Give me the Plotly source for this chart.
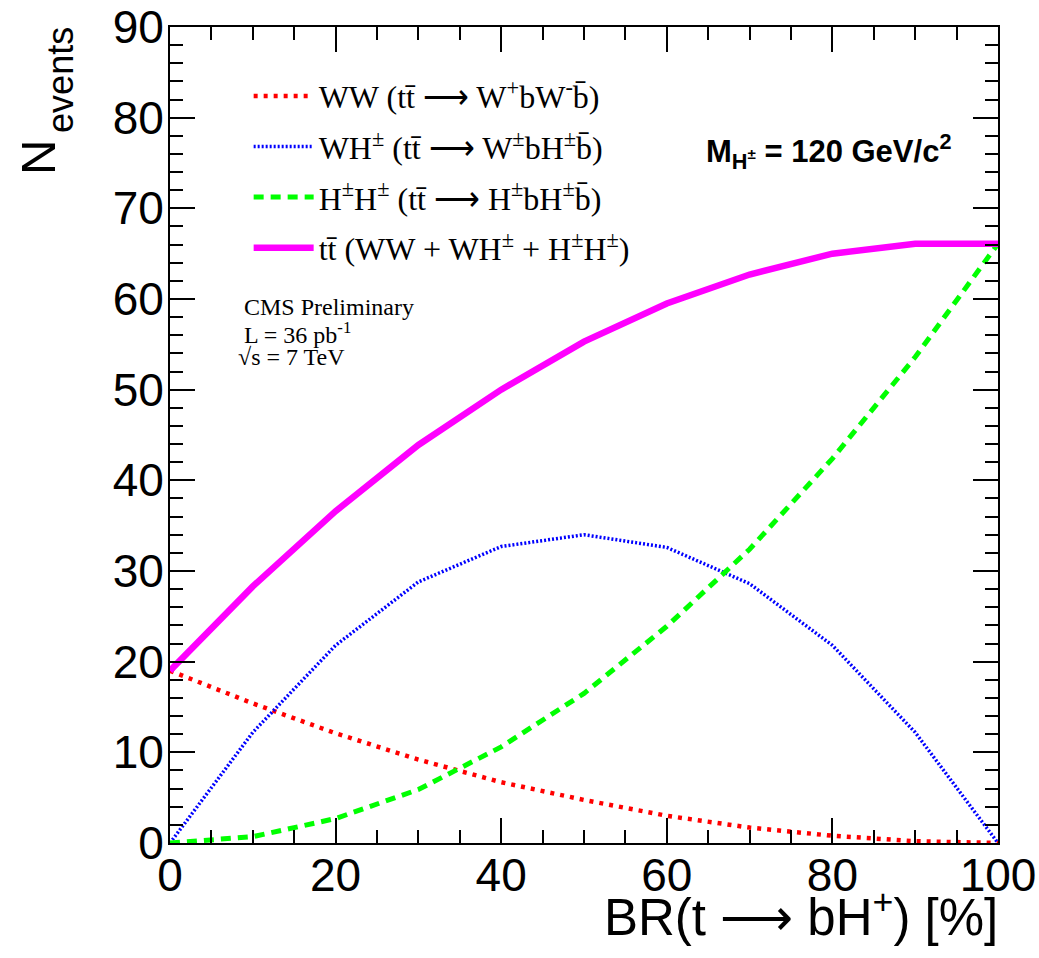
import plotly.graph_objects as go

# Branching ratio BR(t -> bH+) in %
br = [0, 10, 20, 30, 40, 50, 60, 70, 80, 90, 100]

# Expected number of events per component
ww = [19.0, 15.4, 12.1, 9.2, 6.7, 4.75, 3.0, 1.7, 0.8, 0.2, 0.0]
wh = [0.0, 12.2, 21.8, 28.8, 32.7, 34.0, 32.6, 28.6, 21.8, 12.2, 0.0]
hh = [0.0, 0.7, 2.7, 5.9, 10.6, 16.5, 23.9, 32.4, 42.4, 53.6, 66.1]
tt = [19.0, 28.3, 36.6, 43.9, 50.0, 55.3, 59.5, 62.7, 65.0, 66.1, 66.1]

names = [
    "WW (tt̄ ⟶ W<sup>+</sup>bW<sup>-</sup>b̄)",
    "WH<sup>±</sup> (tt̄ ⟶ W<sup>±</sup>bH<sup>±</sup>b̄)",
    "H<sup>±</sup>H<sup>±</sup> (tt̄ ⟶ H<sup>±</sup>bH<sup>±</sup>b̄)",
    "tt̄ (WW + WH<sup>±</sup> + H<sup>±</sup>H<sup>±</sup>)",
]

x_ticks = [0, 20, 40, 60, 80, 100]
y_ticks = [0, 10, 20, 30, 40, 50, 60, 70, 80, 90]

fig = go.Figure()
series = [
    (ww, "#ff0000", 4.5, "4px,6px"),
    (wh, "#0000ff", 3.5, "2px,2px"),
    (hh, "#00ff00", 5, "10px,7px"),
    (tt, "#ff00ff", 6.5, "solid"),
]
for i, (vals, col, w, dash) in enumerate(series):
    fig.add_trace(go.Scatter(
        x=br, y=vals, mode="lines", name=names[i], legendgroup=f"g{i}",
        line=dict(color=col, width=w, dash=dash),
    ))

axis_common = dict(
    showline=True, linecolor="black", linewidth=2, mirror="ticks",
    ticks="inside", tickcolor="black", tickwidth=2, ticklen=25,
    showgrid=False, zeroline=False, automargin=False,
    tickfont=dict(family="Liberation Sans, Arial", size=46, color="black"),
)
fig.update_xaxes(range=[0, 100], tickvals=x_ticks, ticktext=[str(v) for v in x_ticks],
                 ticklabelstandoff=-9,
                 minor=dict(ticks="inside", dtick=5, ticklen=13, tickcolor="black", tickwidth=2),
                 **axis_common)
fig.update_yaxes(range=[0, 90], tickvals=y_ticks, ticktext=[str(v) for v in y_ticks],
                 ticklabelstandoff=-5,
                 minor=dict(ticks="inside", dtick=2, ticklen=13, tickcolor="black", tickwidth=2),
                 **axis_common)

serif = "Liberation Serif, Times New Roman"
sans = "Liberation Sans, Arial"

annotations = [
    dict(text="N", x=-0.16, y=0.84, xref="paper", yref="paper",
         xanchor="center", yanchor="middle", textangle=-90, showarrow=False,
         font=dict(family=sans, size=49, color="black")),
    dict(text="events", x=-0.133, y=0.935, xref="paper", yref="paper",
         xanchor="center", yanchor="middle", textangle=-90, showarrow=False,
         font=dict(family=sans, size=36, color="black")),
    dict(text="BR(t ⟶ bH<sup>+</sup>) [%]", x=1.003, y=-0.087, xref="paper", yref="paper",
         xanchor="right", yanchor="middle", showarrow=False,
         font=dict(family=sans, size=51, color="black")),
    dict(text="<b>M<sub>H<sup>±</sup></sub> = 120 GeV/c<sup>2</sup></b>", x=0.645, y=0.847,
         xref="paper", yref="paper", xanchor="left", yanchor="middle", showarrow=False,
         font=dict(family=sans, size=31, color="black")),
    dict(text="CMS Preliminary", x=0.087, y=0.657, xref="paper", yref="paper",
         xanchor="left", yanchor="middle", showarrow=False,
         font=dict(family=serif, size=24, color="black")),
    dict(text="L = 36 pb<sup>-1</sup>", x=0.087, y=0.625, xref="paper", yref="paper",
         xanchor="left", yanchor="middle", showarrow=False,
         font=dict(family=serif, size=24, color="black")),
    dict(text="√s = 7 TeV", x=0.080, y=0.595, xref="paper", yref="paper",
         xanchor="left", yanchor="middle", showarrow=False,
         font=dict(family=serif, size=24, color="black")),
]

fig.update_layout(
    width=1039, height=958,
    margin=dict(l=170, r=41, t=27, b=115),
    paper_bgcolor="white", plot_bgcolor="white",
    showlegend=True,
    legend=dict(x=0.095, y=0.949, xanchor="left", yanchor="top",
                bgcolor="rgba(0,0,0,0)", borderwidth=0,
                itemwidth=60, tracegroupgap=6,
                font=dict(family=serif, size=32, color="black")),
    annotations=annotations,
)

fig.write_html("out.html")
